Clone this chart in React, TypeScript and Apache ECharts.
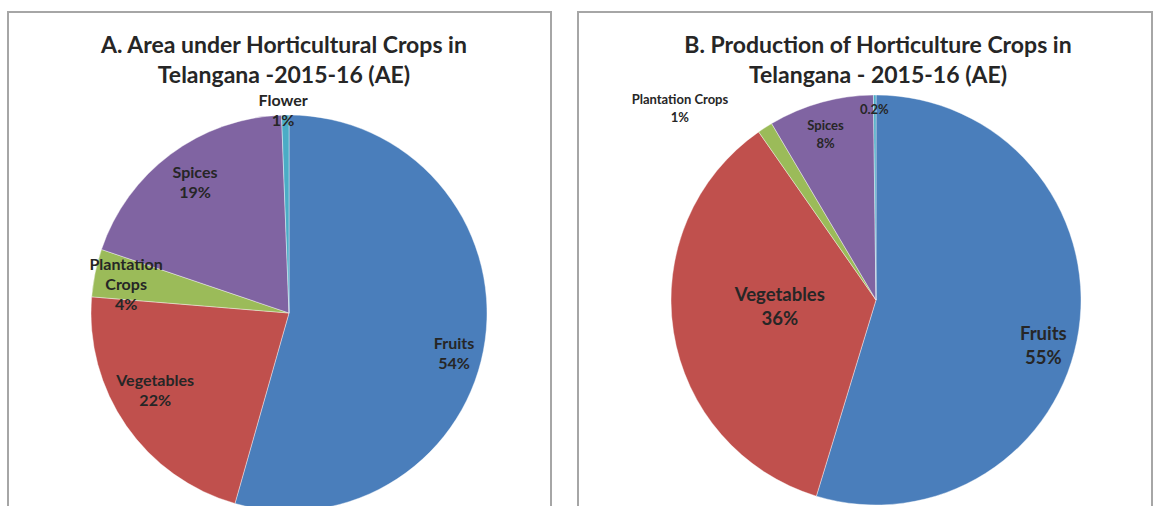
import React, { useEffect, useRef } from "react";
import * as echarts from "echarts";

const categories = ["Fruits", "Vegetables", "Plantation Crops", "Spices", "Flower"];
const areaShare = [54.4, 21.9, 3.9, 19.2, 0.6];
const productionShare = [54.7, 35.6, 1.2, 8.3, 0.2];
const titleA = "A. Area under Horticultural Crops in\nTelangana -2015-16 (AE)";
const titleB = "B. Production of Horticulture Crops in\nTelangana - 2015-16 (AE)";

const colors = ["#4A7EBB", "#C0504D", "#9BBB59", "#8064A2", "#4BACC6"];
const FONT = "Lato, 'Open Sans', sans-serif";
const TEXT = "#262626";

// label nudges (styling) relative to ECharts' inside label position
const leftNudge = [[64, 25], [-50, 18], [-63, -9], [-33, -50], [-4, -102]];
const rightNudge = [[63, 29], [8, -11], [-139, -103], [-22, -64], [-1, -86]];

const pct = (p: number) => (p < 0.5 ? p.toFixed(1) : String(Math.round(p))) + "%";

export default function App() {
  const ref = useRef<HTMLDivElement>(null);
  useEffect(() => {
    if (!ref.current) return;
    const chart = echarts.init(ref.current, undefined, { renderer: "svg" });

    const leftData = categories.map((c, i) => ({
      name: c,
      value: areaShare[i],
      itemStyle: { color: colors[i] },
      label: {
        formatter: (p: any) =>
          (p.name === "Plantation Crops" ? "Plantation\nCrops" : p.name) + "\n" + pct(p.percent),
      },
    }));
    const rightData = categories.map((c, i) => {
      const big = i < 2;
      return {
        name: c,
        value: productionShare[i],
        itemStyle: { color: colors[i] },
        label: {
          fontSize: big ? 18.5 : 13,
          lineHeight: big ? 24 : 18,
          formatter: (p: any) => (p.name === "Flower" ? pct(p.percent) : p.name + "\n" + pct(p.percent)),
        },
      };
    });

    const titleStyle = { fontFamily: FONT, fontWeight: "bold", fontSize: 23, color: TEXT, lineHeight: 30 };

    chart.setOption({
      animation: false,
      backgroundColor: "#ffffff",
      title: [
        { text: titleA, left: 279, top: 24, textAlign: "center", textStyle: titleStyle },
        { text: titleB, left: 873, top: 24, textAlign: "center", textStyle: titleStyle },
      ],
      graphic: [
        { type: "rect", shape: { x: 8, y: 12, width: 543, height: 520 }, style: { fill: "none", stroke: "#a6a6a6", lineWidth: 2 } },
        { type: "rect", shape: { x: 578, y: 12, width: 574, height: 520 }, style: { fill: "none", stroke: "#a6a6a6", lineWidth: 2 } },
      ],
      series: [
        {
          type: "pie",
          center: [289, 313],
          radius: 198,
          startAngle: 90,
          clockwise: true,
          avoidLabelOverlap: false,
          label: {
            show: true,
            position: "inside",
            fontFamily: FONT,
            fontWeight: "bold",
            fontSize: 16,
            lineHeight: 20,
            color: TEXT,
            align: "center",
          },
          labelLine: { show: false },
          labelLayout: (p: any) => ({ dx: leftNudge[p.dataIndex][0], dy: leftNudge[p.dataIndex][1] }),
          itemStyle: { borderColor: "#ffffff", borderWidth: 0.4 },
          emphasis: { disabled: true },
          data: leftData,
        },
        {
          type: "pie",
          center: [876, 300],
          radius: 205,
          startAngle: 90,
          clockwise: true,
          avoidLabelOverlap: false,
          label: {
            show: true,
            position: "inside",
            fontFamily: FONT,
            fontWeight: "bold",
            color: TEXT,
            align: "center",
          },
          labelLine: { show: false },
          labelLayout: (p: any) => ({ dx: rightNudge[p.dataIndex][0], dy: rightNudge[p.dataIndex][1] }),
          itemStyle: { borderColor: "#ffffff", borderWidth: 0.4 },
          emphasis: { disabled: true },
          data: rightData,
        },
      ],
    });
    return () => chart.dispose();
  }, []);
  return (
    <div
      ref={ref}
      style={{ position: "fixed", left: 0, top: 0, width: 1155, height: 506 }}
    />
  );
}
